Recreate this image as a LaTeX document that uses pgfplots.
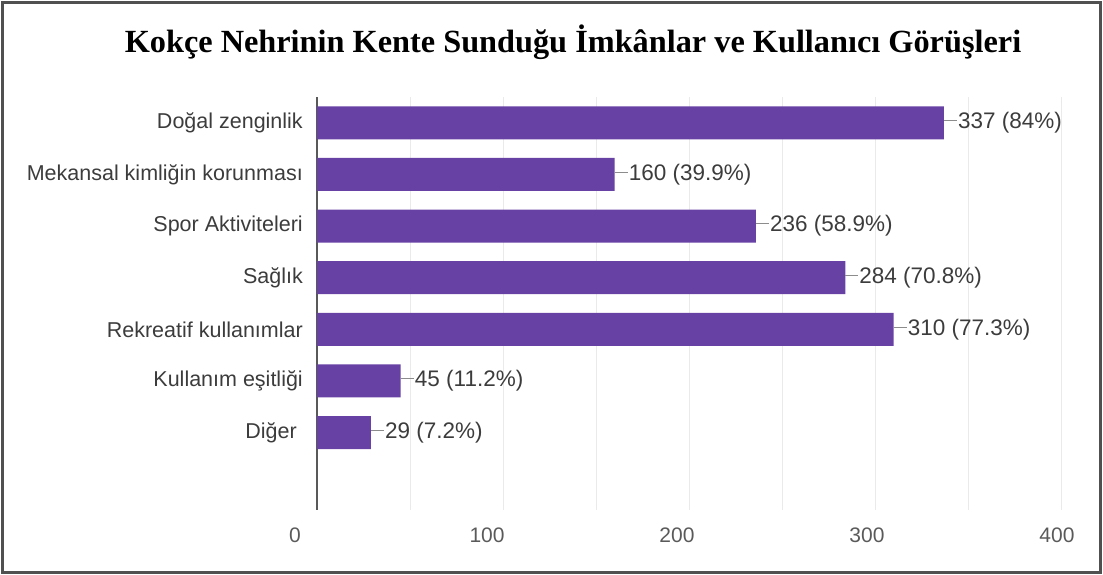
\documentclass[border=0pt]{standalone}
\usepackage{fontspec}
\setmainfont{Liberation Serif}
\setsansfont{Liberation Sans}
\usepackage{pgfplots}
\usepackage{pgfplotstable}
\pgfplotsset{compat=1.18}
\definecolor{barpurple}{RGB}{103,65,163}
\definecolor{labgray}{RGB}{60,60,60}
\definecolor{tickgray}{RGB}{90,90,90}
\definecolor{gridgray}{RGB}{234,234,234}
\definecolor{framegray}{RGB}{80,80,80}

\pgfplotstableread[col sep=comma]{
val,idx,lab
337,0,{337 (84\%)}
160,1,{160 (39.9\%)}
236,2,{236 (58.9\%)}
284,3,{284 (70.8\%)}
310,4,{310 (77.3\%)}
45,5,{45 (11.2\%)}
29,6,{29 (7.2\%)}
}\datatable

\begin{document}
\begin{tikzpicture}[x=1pt,y=1pt]
\useasboundingbox (0,0) rectangle (1103,575);
\draw[framegray, line width=2.5pt] (2.5,2.5) rectangle (1100.5,572.5);
\node[font=\bfseries\fontsize{32.3}{35}\selectfont, anchor=base] at (573,575-53) {Kokçe Nehrinin Kente Sunduğu İmkânlar ve Kullanıcı Görüşleri};
\begin{axis}[
  at={(294.7pt,65pt)}, anchor=south west,
  scale only axis, width=766.3pt, height=413pt,
  xmin=-12, xmax=400,
  ymin=-0.5, ymax=7.5, y dir=reverse,
  axis line style={draw=none},
  xbar, bar width=33pt,
  xtick={-11.8,91.4,193.5,295.7,397.8},
  xticklabels={0,100,200,300,400},
  minor xtick={50,100,...,400},
  minor x grid style={gridgray, line width=1pt},
  xminorgrids=true,
  major tick length=0pt, minor tick length=0pt,
  extra x ticks={0},
  extra x tick labels={},
  extra x tick style={grid=major, major grid style={black!65, line width=2pt}},
  ytick={0,1,2,3,4,5,6},
  yticklabels={Doğal zenginlik, Mekansal kimliğin korunması, Spor Aktiviteleri, Sağlık\ , Rekreatif kullanımlar, Kullanım eşitliği, Diğer\ \ },
  yticklabel style={anchor=east, inner sep=0pt, xshift=8.3pt, font=\sffamily\fontsize{21.5}{24}\selectfont, text=labgray},
  xticklabel style={anchor=north, inner sep=0pt, yshift=-18pt, font=\sffamily\fontsize{21}{24}\selectfont, text=tickgray},
  /pgf/number format/assume math mode=true,
  nodes near coords={\textcolor{gray!90}{\rule[0.33em]{13pt}{1pt}}\hspace{1pt}\pgfplotspointmeta},
  nodes near coords style={anchor=west, inner sep=0pt, xshift=0pt, font=\sffamily\fontsize{22.5}{24}\selectfont, text=labgray},
  point meta=explicit symbolic,
  clip=false,
]
\addplot[fill=barpurple, draw=none] table[x=val, y=idx, meta=lab] {\datatable};
\end{axis}
\end{tikzpicture}
\end{document}
